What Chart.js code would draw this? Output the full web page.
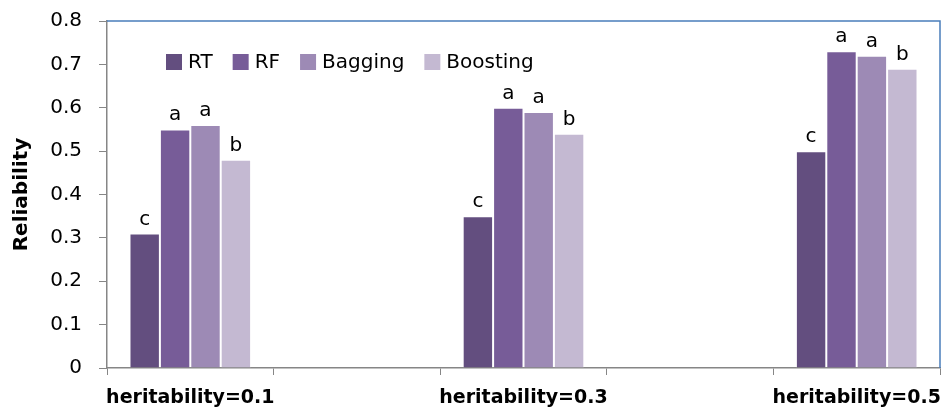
<!DOCTYPE html>
<html>
<head>
<meta charset="utf-8">
<script src="https://cdn.jsdelivr.net/npm/chart.js@4.4.1/dist/chart.umd.min.js"></script>
<style>
html,body{margin:0;padding:0;background:#fff;}
#wrap{width:946px;height:415px;position:relative;}
</style>
</head>
<body>
<div id="wrap"><canvas id="c" width="946" height="415"></canvas></div>
<script>
const categories = ["heritability=0.1", "", "heritability=0.3", "", "heritability=0.5"];
const seriesNames = ["RT", "RF", "Bagging", "Boosting"];
const rtValues = [0.31, null, 0.35, null, 0.50];
const rfValues = [0.55, null, 0.60, null, 0.73];
const baggingValues = [0.56, null, 0.59, null, 0.72];
const boostingValues = [0.48, null, 0.54, null, 0.69];
const rtLetters = ["c", null, "c", null, "c"];
const rfLetters = ["a", null, "a", null, "a"];
const baggingLetters = ["a", null, "a", null, "a"];
const boostingLetters = ["b", null, "b", null, "b"];
const yTicks = [0, 0.1, 0.2, 0.3, 0.4, 0.5, 0.6, 0.7, 0.8];

const colors = ["#634e7f", "#775c98", "#9d8ab5", "#c4b9d2"];
const FONT = "'DejaVu Sans', sans-serif";
const letters = [rtLetters, rfLetters, baggingLetters, boostingLetters];

const extras = {
  id: 'extras',
  afterDraw(chart) {
    const ctx = chart.ctx;
    const a = chart.chartArea;
    ctx.save();
    // top and right blue border
    ctx.strokeStyle = '#4a7ebb';
    ctx.lineWidth = 1.5;
    ctx.beginPath();
    ctx.moveTo(a.left, a.top);
    ctx.lineTo(a.right, a.top);
    ctx.lineTo(a.right, a.bottom);
    ctx.stroke();
    // letters above bars
    ctx.fillStyle = '#000';
    ctx.font = '20px ' + FONT;
    ctx.textAlign = 'center';
    ctx.textBaseline = 'alphabetic';
    chart.data.datasets.forEach((ds, di) => {
      const meta = chart.getDatasetMeta(di);
      meta.data.forEach((bar, i) => {
        const l = letters[di][i];
        if (l && ds.data[i] != null) ctx.fillText(l, bar.x, bar.y - 9);
      });
    });
    // legend inside plot
    ctx.font = '20px ' + FONT;
    ctx.textAlign = 'left';
    ctx.textBaseline = 'middle';
    let x = 166;
    const y = 62;
    chart.data.datasets.forEach((ds) => {
      ctx.fillStyle = ds.backgroundColor;
      ctx.fillRect(x, y - 8, 16, 16);
      ctx.fillStyle = '#000';
      ctx.fillText(ds.label, x + 22, y + 1);
      x += 22 + ctx.measureText(ds.label).width + 20;
    });
    ctx.restore();
  }
};

new Chart(document.getElementById('c'), {
  type: 'bar',
  data: {
    labels: categories,
    datasets: [
      { label: seriesNames[0], data: rtValues, backgroundColor: colors[0] },
      { label: seriesNames[1], data: rfValues, backgroundColor: colors[1] },
      { label: seriesNames[2], data: baggingValues, backgroundColor: colors[2] },
      { label: seriesNames[3], data: boostingValues, backgroundColor: colors[3] }
    ].map(d => Object.assign(d, { borderColor: 'rgba(255,255,255,0.35)', borderWidth: 1, categoryPercentage: 0.73, barPercentage: 1.0 }))
  },
  options: {
    responsive: false,
    animation: false,
    layout: { padding: { top: 21, right: 6, left: 0, bottom: 0 } },
    plugins: { legend: { display: false }, tooltip: { enabled: false } },
    scales: {
      x: {
        offset: true,
        grid: { display: true, offset: true, drawOnChartArea: false, drawTicks: true, tickLength: 7, color: '#868686', lineWidth: 1 },
        border: { display: true, color: '#868686', width: 1.5 },
        ticks: { autoSkip: false, maxRotation: 0, minRotation: 0, padding: 12, color: '#000', font: { family: FONT, size: 19, weight: 'bold' } },
        afterFit: s => { s.height = 47; s.paddingLeft = 0; s.paddingRight = 0; }
      },
      y: {
        min: 0, max: 0.8,
        afterBuildTicks: s => { s.ticks = yTicks.map(v => ({ value: v })); },
        grid: { display: true, drawOnChartArea: false, drawTicks: true, tickLength: 8, color: '#868686' },
        border: { display: true, color: '#868686', width: 1.5 },
        ticks: { padding: 17, color: '#000', font: { family: FONT, size: 20 }, callback: v => String(Math.round(v * 10) / 10) },
        title: { display: true, text: 'Reliability', color: '#000', font: { family: FONT, size: 20, weight: 'bold' }, padding: { top: 10, bottom: 0 } },
        afterFit: s => { s.width = 107; s.paddingTop = 0; s.paddingBottom = 0; }
      }
    }
  },
  plugins: [extras]
});
</script>
</body>
</html>
